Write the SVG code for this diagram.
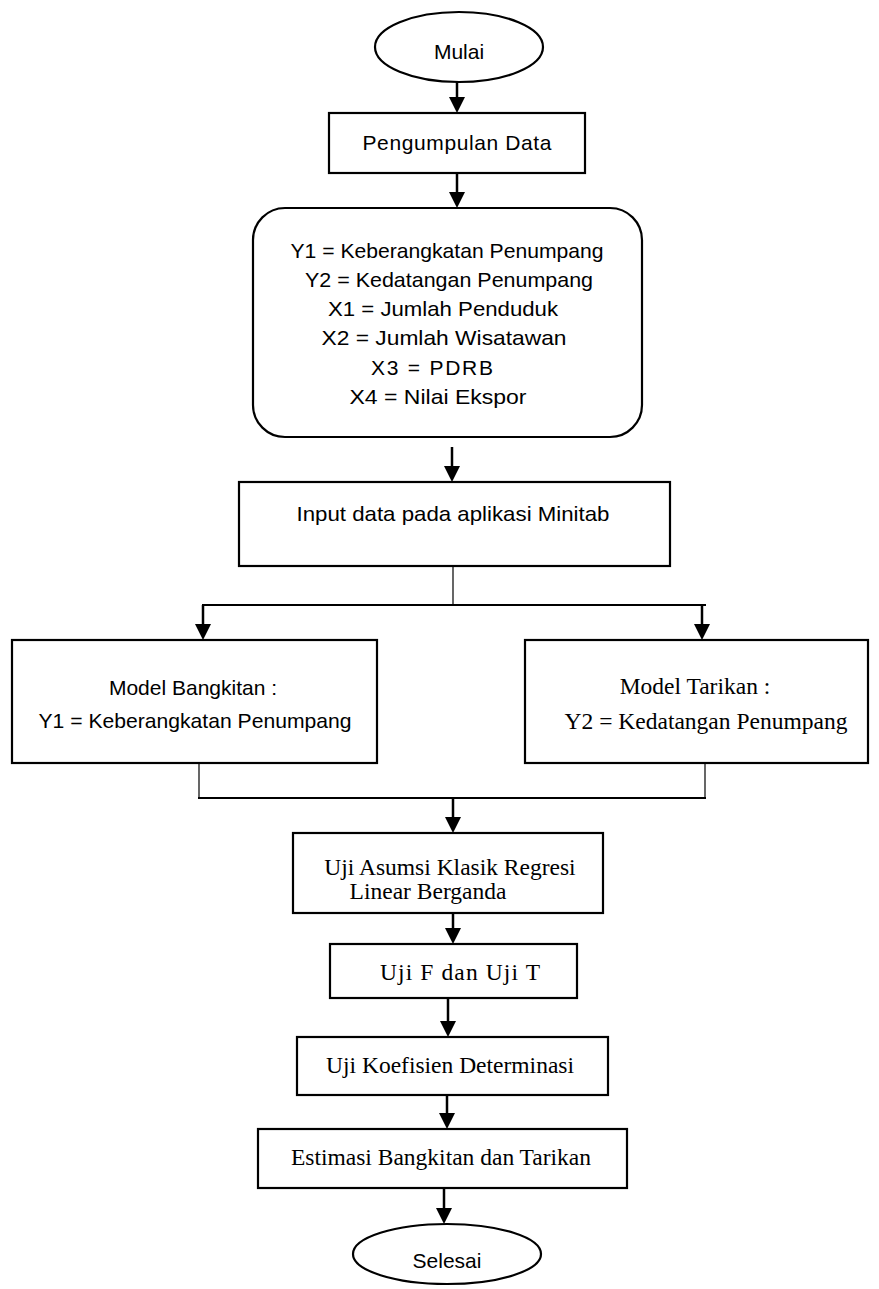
<svg xmlns="http://www.w3.org/2000/svg" width="879" height="1289" viewBox="0 0 879 1289">
<defs>
<style>
.box{fill:#fff;stroke:#000;stroke-width:2.2}
.sans{font-family:"Liberation Sans",Arial,sans-serif;font-size:21px;fill:#000;text-anchor:middle}
.serif{font-family:"Liberation Serif","Times New Roman",serif;font-size:23.5px;fill:#000;text-anchor:middle}
.arr{stroke:#000;stroke-width:2.5;fill:none}
.ln{stroke:#000;stroke-width:2.2;fill:none}
.thin{stroke:#000;stroke-width:1.2;fill:none}
.head{fill:#000}
</style>
</defs>
<rect width="879" height="1289" fill="#fff"/>

<g id="connectors">
<line class="arr" x1="457" y1="82" x2="457" y2="100"/>
<path class="head" d="M449,97 L465,97 L457,113 Z"/>
<line class="arr" x1="457" y1="173" x2="457" y2="195"/>
<path class="head" d="M449,192 L465,192 L457,208 Z"/>
<line class="arr" x1="452" y1="447" x2="452" y2="469"/>
<path class="head" d="M444,466 L460,466 L452,482 Z"/>
<line class="thin" x1="453" y1="566" x2="453" y2="605"/>
<line class="ln" x1="202" y1="605" x2="706" y2="605"/>
<line class="arr" x1="203" y1="605" x2="203" y2="627"/>
<path class="head" d="M195,624 L211,624 L203,640 Z"/>
<line class="arr" x1="702" y1="605" x2="702" y2="627"/>
<path class="head" d="M694,624 L710,624 L702,640 Z"/>
<line class="thin" x1="199" y1="763" x2="199" y2="798"/>
<line class="thin" x1="705" y1="763" x2="705" y2="798"/>
<line class="ln" x1="198" y1="798" x2="706" y2="798"/>
<line class="arr" x1="453" y1="798" x2="453" y2="820"/>
<path class="head" d="M445,817 L461,817 L453,833 Z"/>
<line class="arr" x1="453" y1="913" x2="453" y2="931"/>
<path class="head" d="M445,928 L461,928 L453,944 Z"/>
<line class="arr" x1="448" y1="998" x2="448" y2="1024"/>
<path class="head" d="M440,1021 L456,1021 L448,1037 Z"/>
<line class="arr" x1="447" y1="1095" x2="447" y2="1116"/>
<path class="head" d="M439,1113 L455,1113 L447,1129 Z"/>
<line class="arr" x1="444" y1="1188" x2="444" y2="1211"/>
<path class="head" d="M436,1208 L452,1208 L444,1224 Z"/>
</g>

<g id="mulai">
<ellipse class="box" cx="459" cy="47" rx="84" ry="35"/>
<text class="sans" x="459" y="59">Mulai</text>
</g>

<g id="pengumpulan">
<rect class="box" x="329" y="113" width="256" height="60"/>
<text class="sans" x="457" y="150" textLength="189" lengthAdjust="spacing">Pengumpulan Data</text>
</g>

<g id="variabel">
<rect class="box" x="253" y="208" width="389" height="229" rx="32" ry="32"/>
<text class="sans" x="447" y="258" textLength="313" lengthAdjust="spacingAndGlyphs">Y1 = Keberangkatan Penumpang</text>
<text class="sans" x="449" y="287" textLength="288" lengthAdjust="spacingAndGlyphs">Y2 = Kedatangan Penumpang</text>
<text class="sans" x="443" y="316" textLength="230" lengthAdjust="spacingAndGlyphs">X1 = Jumlah Penduduk</text>
<text class="sans" x="444" y="345" textLength="245" lengthAdjust="spacingAndGlyphs">X2 =  Jumlah Wisatawan</text>
<text class="sans" x="432" y="375" textLength="122" lengthAdjust="spacing">X3 = PDRB</text>
<text class="sans" x="438" y="404" textLength="177" lengthAdjust="spacingAndGlyphs">X4 = Nilai Ekspor</text>
</g>

<g id="input">
<rect class="box" x="239" y="482" width="431" height="84"/>
<text class="sans" x="453" y="521" textLength="313" lengthAdjust="spacingAndGlyphs">Input data pada aplikasi Minitab</text>
</g>

<g id="bangkitan">
<rect class="box" x="12" y="640" width="365" height="123"/>
<text class="sans" x="193" y="695">Model Bangkitan :</text>
<text class="sans" x="195" y="728" textLength="313" lengthAdjust="spacingAndGlyphs">Y1 = Keberangkatan Penumpang</text>
</g>

<g id="tarikan">
<rect class="box" x="525" y="640" width="343" height="123"/>
<text class="serif" x="695" y="694">Model Tarikan :</text>
<text class="serif" x="706" y="729">Y2 = Kedatangan Penumpang</text>
</g>

<g id="asumsi">
<rect class="box" x="293" y="833" width="310" height="80"/>
<text class="serif" x="450" y="875">Uji Asumsi Klasik Regresi</text>
<text class="serif" x="428" y="899">Linear Berganda</text>
</g>

<g id="ujift">
<rect class="box" x="330" y="944" width="247" height="54"/>
<text class="serif" x="460" y="980" textLength="160" lengthAdjust="spacing">Uji F dan Uji T</text>
</g>

<g id="koefisien">
<rect class="box" x="297" y="1037" width="311" height="58"/>
<text class="serif" x="450" y="1073">Uji Koefisien Determinasi</text>
</g>

<g id="estimasi">
<rect class="box" x="258" y="1129" width="369" height="59"/>
<text class="serif" x="441" y="1165">Estimasi Bangkitan dan Tarikan</text>
</g>

<g id="selesai">
<ellipse class="box" cx="447" cy="1254" rx="94" ry="30"/>
<text class="sans" x="447" y="1268">Selesai</text>
</g>
</svg>
